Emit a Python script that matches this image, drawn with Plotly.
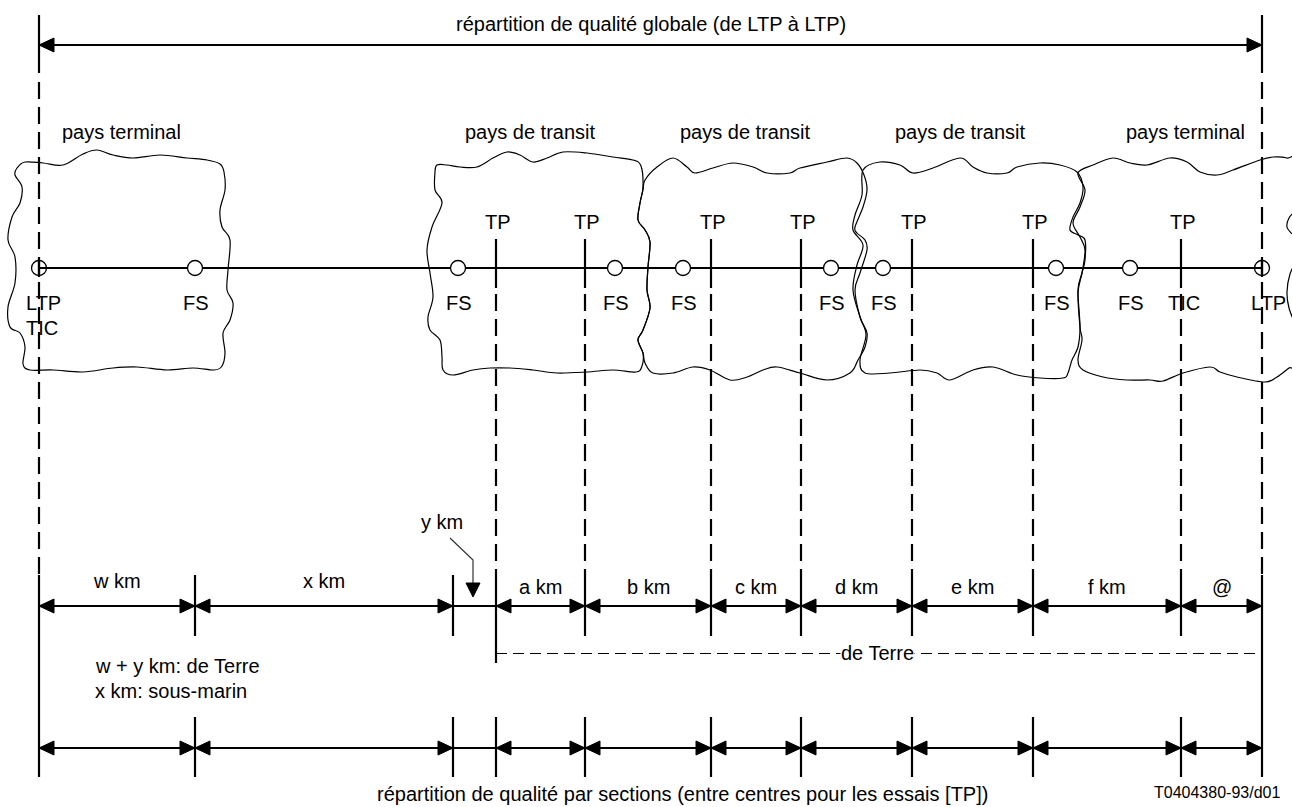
import plotly.graph_objects as go

# ---------------- data (positions along the connection, drawing units) ----------------
ltp_x = [39, 1262]
boundaries = [39, 195, 453, 496, 585, 711, 801, 912, 1033, 1181, 1262]
section_labels = ["w km", "x km", "", "a km", "b km", "c km", "d km", "e km", "f km", "@"]
section_has_arrows = [True, True, False, True, True, True, True, True, True, True]
tp_x = [496, 585, 711, 801, 912, 1033, 1181]
fs_x = [195, 458, 615, 683, 831, 883, 1056, 1130]
countries = ["pays terminal", "pays de transit", "pays de transit", "pays de transit", "pays terminal"]
country_x = [121, 530, 745, 960, 1185]
terre_start = 496          # start of the "de Terre" span
y_km_x = 473               # position pointed at by the "y km" call-out

title_top = "répartition de qualité globale (de LTP à LTP)"
title_bottom = "répartition de qualité par sections (entre centres pour les essais [TP])"
note_lines = ["w + y km: de Terre", "x km: sous-marin"]
ref_code = "T0404380-93/d01"

# cloud outlines (country borders)
clouds = [
    [(17,168),(25,162),(43,163),(63,165),(83,154),(97,150),(113,155),(133,158),(160,155),(187,158),(207,160),(220,164),(224,172),(225,190),(220,210),(222,227),(230,240),(228,270),(227,290),(233,303),(230,320),(223,333),(225,353),(222,366),(214,370),(193,368),(167,370),(137,367),(113,368),(83,372),(53,370),(30,370),(23,364),(25,347),(20,333),(10,327),(8,307),(15,283),(15,257),(8,240),(12,217),(20,203),(22,187),(15,175)],
    [(437,165),(447,165),(460,167),(477,167),(493,158),(507,152),(520,155),(533,162),(547,158),(563,152),(587,153),(613,157),(633,160),(641,166),(643,187),(640,203),(638,220),(645,230),(650,242),(648,267),(647,290),(650,308),(643,330),(638,340),(643,353),(642,366),(636,372),(613,370),(587,372),(557,373),(533,370),(510,368),(490,368),(473,370),(453,375),(443,370),(442,357),(440,340),(430,330),(428,317),(433,297),(430,273),(427,250),(432,227),(442,203),(435,190),(435,172)],
    [(645,180),(657,167),(673,158),(687,167),(695,173),(713,168),(733,163),(753,167),(767,173),(790,173),(800,168),(827,162),(847,158),(857,163),(864,175),(867,190),(863,207),(855,227),(857,233),(865,240),(867,250),(860,273),(855,290),(860,317),(867,333),(865,347),(858,360),(850,373),(827,380),(800,373),(777,367),(763,370),(747,377),(730,380),(710,370),(693,367),(673,373),(653,373),(645,363),(643,353),(638,340),(643,330),(650,308),(647,290),(648,267),(650,242),(645,230),(638,220),(640,203),(643,190)],
    [(863,170),(880,162),(900,165),(913,173),(933,168),(960,158),(973,167),(987,173),(1007,173),(1017,167),(1040,163),(1060,165),(1077,172),(1083,187),(1080,203),(1073,217),(1070,230),(1078,235),(1085,240),(1085,260),(1082,273),(1078,290),(1080,327),(1078,347),(1072,360),(1068,373),(1063,378),(1040,378),(1017,375),(993,367),(973,370),(950,380),(937,373),(920,370),(890,373),(865,373),(860,360),(866,335),(860,317),(853,290),(857,265),(863,245),(853,230),(855,215),(862,195)],
    [(1078,173),(1093,165),(1113,158),(1130,163),(1147,165),(1170,158),(1187,162),(1200,172),(1217,175),(1233,170),(1260,160),(1273,157),(1287,158),(1300,165),(1305,260),(1300,360),(1289,368),(1277,377),(1265,382),(1237,377),(1220,372),(1210,367),(1183,373),(1163,381),(1150,380),(1127,380),(1103,377),(1083,370),(1078,360),(1082,340),(1080,327),(1078,293),(1082,273),(1085,250),(1080,237),(1073,223),(1080,207),(1085,190)],
]
open_arcs = [
    [(1296,210),(1289,218),(1287,227),(1292,234)],
    [(1298,258),(1290,274),(1287,292),(1289,308),(1296,326)],
]

# ---------------- layout constants ----------------
W, H = 1292, 807
Y_TOP, Y_COUNTRY, Y_TP, Y_MAIN, Y_FS = 45, 132, 222, 268, 303
Y_ROW1, Y_TERRE, Y_ROW2 = 606, 653.5, 748
FONT = "Arial, Liberation Sans, sans-serif"
LW = 2.2
AL, AH = 15, 7  # arrowhead length / half height


def seg(lst, x0, y0, x1, y1):
    lst[0] += [x0, x1, None]
    lst[1] += [y0, y1, None]


def tri(lst, x, y, d):
    # d: 'l','r','d' ; tip at (x,y)
    if d == 'l':
        pts = [(x, y), (x + AL, y - AH), (x + AL, y + AH)]
    elif d == 'r':
        pts = [(x, y), (x - AL, y - AH), (x - AL, y + AH)]
    else:
        pts = [(x, y), (x - AH, y - 14), (x + AH, y - 14)]
    for px, py in pts + [pts[0]]:
        lst[0].append(px)
        lst[1].append(py)
    lst[0].append(None)
    lst[1].append(None)


def smooth(pts, closed=True):
    n = len(pts)
    d = f"M {pts[0][0]},{pts[0][1]}"
    rng = range(n) if closed else range(n - 1)
    for i in rng:
        if closed:
            p0, p1, p2, p3 = pts[(i - 1) % n], pts[i], pts[(i + 1) % n], pts[(i + 2) % n]
        else:
            p0 = pts[max(i - 1, 0)]; p1 = pts[i]; p2 = pts[i + 1]; p3 = pts[min(i + 2, n - 1)]
        c1 = (p1[0] + (p2[0] - p0[0]) / 6, p1[1] + (p2[1] - p0[1]) / 6)
        c2 = (p2[0] - (p3[0] - p1[0]) / 6, p2[1] - (p3[1] - p1[1]) / 6)
        d += f" C {c1[0]:.1f},{c1[1]:.1f} {c2[0]:.1f},{c2[1]:.1f} {p2[0]},{p2[1]}"
    if closed:
        d += " Z"
    return d


solid = [[], []]
dashed = [[], []]
heads = [[], []]

# overall span arrow
seg(solid, ltp_x[0], Y_TOP, ltp_x[1], Y_TOP)
tri(heads, ltp_x[0], Y_TOP, 'l')
tri(heads, ltp_x[1], Y_TOP, 'r')

# LTP verticals
for x in ltp_x:
    seg(solid, x, 15, x, 73)
    seg(dashed, x, 82, x, 575)
    seg(solid, x, Y_MAIN - 9, x, Y_MAIN + 9)
    seg(solid, x, 575, x, 777)

# main line
seg(solid, ltp_x[0], Y_MAIN, ltp_x[1], Y_MAIN)

# TP verticals
for x in tp_x:
    seg(solid, x, 239, x, 288)
    seg(dashed, x, 294, x, 575)

# section rows
for x in boundaries[1:-1]:
    y_end = 663 if x == terre_start else 636
    seg(solid, x, 575, x, y_end)
    seg(solid, x, 717, x, 777)
for yrow in (Y_ROW1, Y_ROW2):
    seg(solid, boundaries[0], yrow, boundaries[-1], yrow)
    for i, has in enumerate(section_has_arrows):
        if has:
            tri(heads, boundaries[i], yrow, 'l')
            tri(heads, boundaries[i + 1], yrow, 'r')

# y km call-out arrowhead
tri(heads, y_km_x, 597, 'd')

fig = go.Figure()

fig.add_trace(go.Scatter(x=solid[0], y=solid[1], mode="lines",
                         line=dict(color="black", width=LW), hoverinfo="skip"))
fig.add_trace(go.Scatter(x=dashed[0], y=dashed[1], mode="lines",
                         line=dict(color="black", width=LW, dash="17px,8px"), hoverinfo="skip"))
fig.add_trace(go.Scatter(x=[terre_start, boundaries[-1]], y=[Y_TERRE, Y_TERRE], mode="lines",
                         line=dict(color="black", width=1, dash="11px,6px"), hoverinfo="skip"))
fig.add_trace(go.Scatter(x=[450, y_km_x, y_km_x], y=[538, 560, 585], mode="lines",
                         line=dict(color="#333333", width=1.2), hoverinfo="skip"))
fig.add_trace(go.Scatter(x=heads[0], y=heads[1], mode="lines", fill="toself",
                         fillcolor="black", line=dict(color="black", width=1), hoverinfo="skip"))
# FS circles (white filled) and LTP circles (open)
fig.add_trace(go.Scatter(x=fs_x, y=[Y_MAIN] * len(fs_x), mode="markers",
                         marker=dict(symbol="circle", size=15, color="white",
                                     line=dict(color="black", width=1.3)), hoverinfo="skip"))
fig.add_trace(go.Scatter(x=ltp_x, y=[Y_MAIN] * len(ltp_x), mode="markers",
                         marker=dict(symbol="circle-open", size=15, color="black",
                                     line=dict(color="black", width=1.3)), hoverinfo="skip"))

shapes = []
for c in clouds:
    shapes.append(dict(type="path", path=smooth(c), xref="x", yref="y",
                       line=dict(color="black", width=1.2), fillcolor="rgba(0,0,0,0)", layer="below"))
for a in open_arcs:
    shapes.append(dict(type="path", path=smooth(a, closed=False), xref="x", yref="y",
                       line=dict(color="black", width=1.2), layer="below"))

ann = []


def txt(x, y, s, size=20, xanchor="center", bg=None):
    d = dict(x=x, y=y, text=s, showarrow=False, xref="x", yref="y", xanchor=xanchor,
             yanchor="middle", font=dict(family=FONT, size=size, color="black"))
    if bg:
        d.update(bgcolor=bg, borderpad=0)
    ann.append(d)


txt((ltp_x[0] + ltp_x[1]) / 2 + 0.5, 24, title_top)
for name, cx in zip(countries, country_x):
    txt(cx, Y_COUNTRY, name)
for x in tp_x:
    txt(x + 2, Y_TP, "TP")
for x in fs_x:
    txt(x + 1, Y_FS, "FS")
txt(ltp_x[0] + 4, Y_FS, "LTP")
txt(ltp_x[0] + 3, 328, "TIC")
txt(tp_x[-1] + 3, Y_FS, "TIC")
txt(ltp_x[1] + 6, Y_FS, "LTP")
for i, lab in enumerate(section_labels):
    if lab:
        yy = 581 if i < 2 else 587
        txt((boundaries[i] + boundaries[i + 1]) / 2, yy, lab)
txt(442, 522, "y km")
txt(93, 666, note_lines[0], xanchor="left")
txt(93, 691, note_lines[1], xanchor="left")
txt(877, 653, "de Terre", bg="white")
txt(682, 794, title_bottom)
txt(1282, 792, ref_code, size=16, xanchor="right")

fig.update_layout(
    width=W, height=H, margin=dict(l=0, r=0, t=0, b=0),
    paper_bgcolor="white", plot_bgcolor="white", showlegend=False,
    xaxis=dict(range=[0, W], visible=False, fixedrange=True),
    yaxis=dict(range=[H, 0], visible=False, fixedrange=True),
    shapes=shapes, annotations=ann,
)

fig.write_html("out.html", config={"displayModeBar": False, "staticPlot": True},
               post_script="document.body.style.margin='0';document.body.style.overflow='hidden';")
